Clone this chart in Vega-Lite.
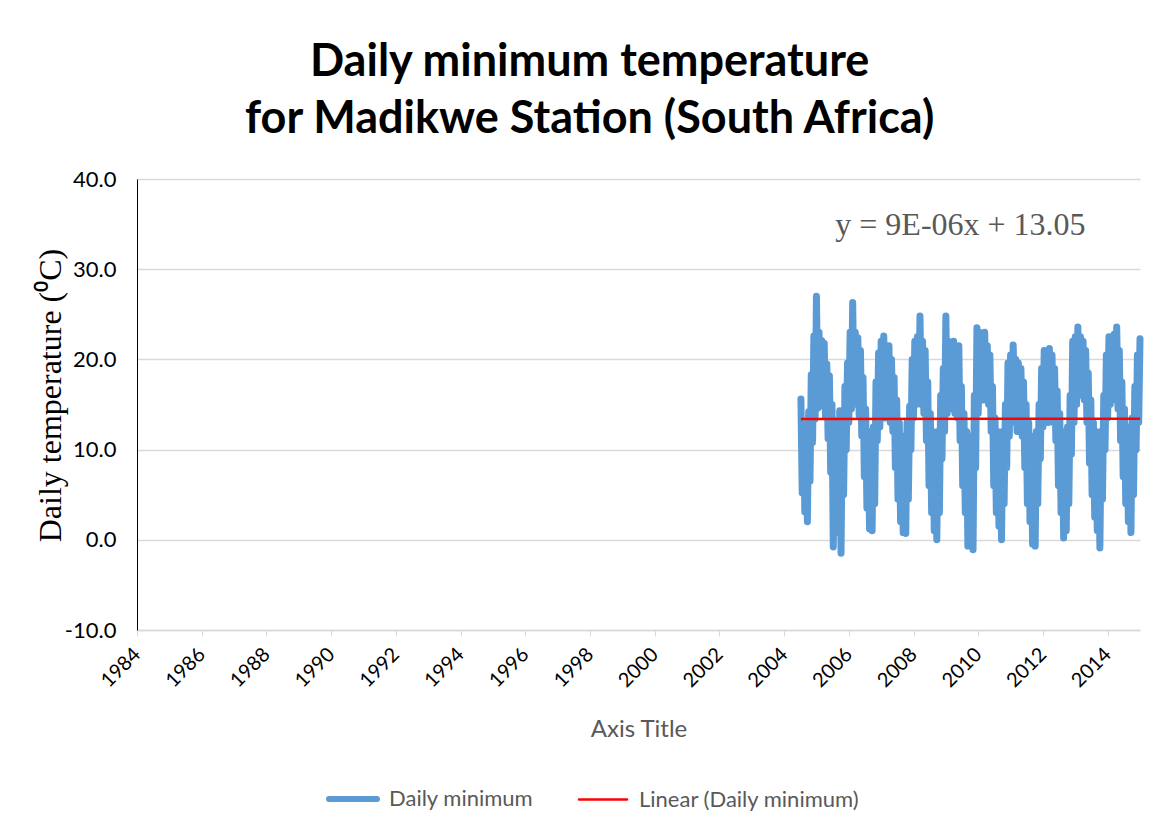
{
"$schema": "https://vega.github.io/schema/vega-lite/v6.json",
"autosize": {"type": "none"},
"width": 1003,
"height": 451,
"padding": {"left": 137, "top": 179, "right": 30, "bottom": 198},
"background": "white",
"title": {"text": ["Daily minimum temperature", "for Madikwe Station (South Africa)"], "font": "Lato", "fontSize": 45, "fontWeight": "bold", "color": "#000000", "anchor": "middle", "frame": "bounds", "lineHeight": 57, "offset": 26},
"datasets": {
"daily": [
{"t":2004.52,"v":15.6},{"t":2004.56,"v":5.2},{"t":2004.60,"v":12.8},{"t":2004.64,"v":3.1},{"t":2004.68,"v":11.5},{"t":2004.72,"v":2.0},{"t":2004.76,"v":14.2},{"t":2004.80,"v":6.5},{"t":2004.84,"v":18.3},{"t":2004.88,"v":10.8},{"t":2004.92,"v":22.6},{"t":2004.96,"v":13.4},
{"t":2005.00,"v":27.0},{"t":2005.04,"v":14.6},{"t":2005.08,"v":23.0},{"t":2005.12,"v":15.2},{"t":2005.16,"v":22.1},{"t":2005.20,"v":14.8},{"t":2005.24,"v":21.8},{"t":2005.28,"v":13.6},{"t":2005.32,"v":19.5},{"t":2005.36,"v":11.2},{"t":2005.40,"v":18.2},{"t":2005.44,"v":7.5},{"t":2005.48,"v":15.0},{"t":2005.52,"v":-0.8},{"t":2005.56,"v":13.2},{"t":2005.60,"v":2.5},{"t":2005.64,"v":12.0},{"t":2005.68,"v":0.8},{"t":2005.72,"v":14.3},{"t":2005.76,"v":-1.5},{"t":2005.80,"v":14.0},{"t":2005.84,"v":5.0},{"t":2005.88,"v":17.0},{"t":2005.92,"v":10.0},{"t":2005.96,"v":19.6},
{"t":2006.00,"v":13.0},{"t":2006.04,"v":23.0},{"t":2006.08,"v":14.5},{"t":2006.12,"v":26.3},{"t":2006.16,"v":15.2},{"t":2006.20,"v":23.0},{"t":2006.24,"v":15.0},{"t":2006.28,"v":22.4},{"t":2006.32,"v":13.8},{"t":2006.36,"v":21.0},{"t":2006.40,"v":11.5},{"t":2006.44,"v":18.0},{"t":2006.48,"v":7.0},{"t":2006.52,"v":14.5},{"t":2006.56,"v":3.5},{"t":2006.60,"v":12.0},{"t":2006.64,"v":1.2},{"t":2006.68,"v":11.0},{"t":2006.72,"v":1.0},{"t":2006.76,"v":12.5},{"t":2006.80,"v":4.0},{"t":2006.84,"v":17.5},{"t":2006.88,"v":11.0},{"t":2006.92,"v":20.7},{"t":2006.96,"v":12.5},
{"t":2007.00,"v":22.0},{"t":2007.04,"v":14.0},{"t":2007.08,"v":22.6},{"t":2007.12,"v":13.5},{"t":2007.16,"v":21.4},{"t":2007.20,"v":14.5},{"t":2007.24,"v":21.5},{"t":2007.28,"v":13.0},{"t":2007.32,"v":20.0},{"t":2007.36,"v":12.0},{"t":2007.40,"v":18.0},{"t":2007.44,"v":8.0},{"t":2007.48,"v":15.5},{"t":2007.52,"v":4.5},{"t":2007.56,"v":13.0},{"t":2007.60,"v":2.0},{"t":2007.64,"v":11.5},{"t":2007.68,"v":0.8},{"t":2007.72,"v":11.0},{"t":2007.76,"v":0.7},{"t":2007.80,"v":13.0},{"t":2007.84,"v":4.5},{"t":2007.88,"v":14.8},{"t":2007.92,"v":10.0},{"t":2007.96,"v":20.0},
{"t":2008.00,"v":13.5},{"t":2008.04,"v":22.0},{"t":2008.08,"v":15.0},{"t":2008.12,"v":22.5},{"t":2008.16,"v":15.5},{"t":2008.20,"v":24.8},{"t":2008.24,"v":15.0},{"t":2008.28,"v":22.0},{"t":2008.32,"v":14.0},{"t":2008.36,"v":21.0},{"t":2008.40,"v":11.0},{"t":2008.44,"v":17.5},{"t":2008.48,"v":6.0},{"t":2008.52,"v":14.0},{"t":2008.56,"v":3.0},{"t":2008.60,"v":12.0},{"t":2008.64,"v":1.0},{"t":2008.68,"v":11.0},{"t":2008.72,"v":0.0},{"t":2008.76,"v":12.0},{"t":2008.80,"v":3.0},{"t":2008.84,"v":16.0},{"t":2008.88,"v":9.0},{"t":2008.92,"v":19.0},{"t":2008.96,"v":12.0},
{"t":2009.00,"v":24.8},{"t":2009.04,"v":14.0},{"t":2009.08,"v":22.0},{"t":2009.12,"v":14.5},{"t":2009.16,"v":21.8},{"t":2009.20,"v":15.0},{"t":2009.24,"v":22.0},{"t":2009.28,"v":14.0},{"t":2009.32,"v":21.5},{"t":2009.36,"v":13.5},{"t":2009.40,"v":21.5},{"t":2009.44,"v":11.0},{"t":2009.48,"v":17.0},{"t":2009.52,"v":6.0},{"t":2009.56,"v":14.0},{"t":2009.60,"v":3.0},{"t":2009.64,"v":12.0},{"t":2009.68,"v":-0.7},{"t":2009.72,"v":11.0},{"t":2009.76,"v":1.0},{"t":2009.80,"v":11.5},{"t":2009.84,"v":-1.1},{"t":2009.88,"v":16.0},{"t":2009.92,"v":8.0},{"t":2009.96,"v":23.5},
{"t":2010.00,"v":14.0},{"t":2010.04,"v":23.0},{"t":2010.08,"v":16.0},{"t":2010.12,"v":22.8},{"t":2010.16,"v":15.5},{"t":2010.20,"v":23.0},{"t":2010.24,"v":16.0},{"t":2010.28,"v":21.5},{"t":2010.32,"v":15.0},{"t":2010.36,"v":20.5},{"t":2010.40,"v":12.0},{"t":2010.44,"v":17.0},{"t":2010.48,"v":6.0},{"t":2010.52,"v":13.5},{"t":2010.56,"v":3.0},{"t":2010.60,"v":12.0},{"t":2010.64,"v":1.5},{"t":2010.68,"v":10.5},{"t":2010.72,"v":0.0},{"t":2010.76,"v":12.0},{"t":2010.80,"v":4.0},{"t":2010.84,"v":15.0},{"t":2010.88,"v":8.0},{"t":2010.92,"v":19.6},{"t":2010.96,"v":11.5},
{"t":2011.00,"v":20.5},{"t":2011.04,"v":13.0},{"t":2011.08,"v":21.6},{"t":2011.12,"v":15.5},{"t":2011.16,"v":20.0},{"t":2011.20,"v":12.0},{"t":2011.24,"v":19.6},{"t":2011.28,"v":15.0},{"t":2011.32,"v":19.0},{"t":2011.36,"v":11.5},{"t":2011.40,"v":17.5},{"t":2011.44,"v":8.0},{"t":2011.48,"v":15.0},{"t":2011.52,"v":4.0},{"t":2011.56,"v":13.0},{"t":2011.60,"v":2.0},{"t":2011.64,"v":11.5},{"t":2011.68,"v":-0.5},{"t":2011.72,"v":11.0},{"t":2011.76,"v":-0.7},{"t":2011.80,"v":12.0},{"t":2011.84,"v":4.0},{"t":2011.88,"v":15.0},{"t":2011.92,"v":9.0},{"t":2011.96,"v":19.0},
{"t":2012.00,"v":12.5},{"t":2012.04,"v":21.0},{"t":2012.08,"v":13.5},{"t":2012.12,"v":20.5},{"t":2012.16,"v":13.0},{"t":2012.20,"v":21.2},{"t":2012.24,"v":14.0},{"t":2012.28,"v":20.5},{"t":2012.32,"v":13.0},{"t":2012.36,"v":19.0},{"t":2012.40,"v":11.0},{"t":2012.44,"v":16.5},{"t":2012.48,"v":6.0},{"t":2012.52,"v":14.0},{"t":2012.56,"v":3.0},{"t":2012.60,"v":12.0},{"t":2012.64,"v":0.2},{"t":2012.68,"v":11.0},{"t":2012.72,"v":1.0},{"t":2012.76,"v":12.5},{"t":2012.80,"v":4.0},{"t":2012.84,"v":16.0},{"t":2012.88,"v":9.5},{"t":2012.92,"v":22.0},{"t":2012.96,"v":13.0},
{"t":2013.00,"v":22.5},{"t":2013.04,"v":15.0},{"t":2013.08,"v":23.6},{"t":2013.12,"v":16.0},{"t":2013.16,"v":22.5},{"t":2013.20,"v":16.5},{"t":2013.24,"v":22.0},{"t":2013.28,"v":15.5},{"t":2013.32,"v":21.0},{"t":2013.36,"v":13.0},{"t":2013.40,"v":18.5},{"t":2013.44,"v":8.5},{"t":2013.48,"v":15.5},{"t":2013.52,"v":5.0},{"t":2013.56,"v":13.0},{"t":2013.60,"v":2.5},{"t":2013.64,"v":12.0},{"t":2013.68,"v":1.0},{"t":2013.72,"v":10.5},{"t":2013.76,"v":-0.9},{"t":2013.80,"v":12.0},{"t":2013.84,"v":4.5},{"t":2013.88,"v":16.0},{"t":2013.92,"v":10.0},{"t":2013.96,"v":20.5},
{"t":2014.00,"v":13.5},{"t":2014.04,"v":22.5},{"t":2014.08,"v":15.0},{"t":2014.12,"v":22.0},{"t":2014.16,"v":16.0},{"t":2014.20,"v":22.8},{"t":2014.24,"v":15.5},{"t":2014.28,"v":23.6},{"t":2014.32,"v":14.5},{"t":2014.36,"v":21.0},{"t":2014.40,"v":11.0},{"t":2014.44,"v":17.5},{"t":2014.48,"v":7.0},{"t":2014.52,"v":14.5},{"t":2014.56,"v":4.0},{"t":2014.60,"v":12.5},{"t":2014.64,"v":2.0},{"t":2014.68,"v":11.0},{"t":2014.72,"v":0.8},{"t":2014.76,"v":13.5},{"t":2014.80,"v":5.0},{"t":2014.84,"v":17.0},{"t":2014.88,"v":10.0},{"t":2014.92,"v":20.5},{"t":2014.96,"v":13.0},
{"t":2015.00,"v":22.3}
],
"trend": [{"t":2004.52,"v":13.39},{"t":2015.00,"v":13.43}]
},
"layer": [
{
"data": {"name": "daily"},
"mark": {"type": "line", "strokeWidth": 7, "strokeCap": "round", "strokeJoin": "round"},
"encoding": {
"x": {"field": "t", "type": "quantitative", "scale": {"domain": [1984, 2015], "nice": false, "zero": false},
"axis": {"title": "Axis Title", "values": [1984,1985,1986,1987,1988,1989,1990,1991,1992,1993,1994,1995,1996,1997,1998,1999,2000,2001,2002,2003,2004,2005,2006,2007,2008,2009,2010,2011,2012,2013,2014,2015],
"labelExpr": "datum.value % 2 === 0 ? format(datum.value, 'd') : ''", "labelAngle": -45, "labelAlign": "right", "labelBaseline": "middle", "labelPadding": 15, "labelOverlap": false,
"grid": false, "tickColor": "#d9d9d9", "tickSize": 6, "domainColor": "#d9d9d9", "domainWidth": 1.5,
"labelFont": "Lato", "labelFontSize": 20, "labelColor": "#000000",
"titleFont": "Lato", "titleFontSize": 24, "titleFontWeight": "normal", "titleColor": "#595959", "titlePadding": 27}},
"y": {"field": "v", "type": "quantitative", "scale": {"domain": [-10, 40], "nice": false, "zero": false},
"axis": {"title": "Daily temperature (⁰C)", "values": [-10,0,10,20,30,40], "format": ".1f", "labelExpr": "replace(datum.label, '−', '-')", "grid": true, "gridColor": "#d9d9d9", "gridWidth": 1.5, "ticks": false, "domainColor": "#000000", "domainWidth": 1,
"labelFont": "Lato", "labelFontSize": 22, "labelColor": "#000000", "labelPadding": 21,
"titleFont": "Liberation Serif", "titleFontSize": 32, "titleFontWeight": "normal", "titleColor": "#000000", "titlePadding": -3, "titleY": 216}},
"color": {"datum": "Daily minimum", "type": "nominal", "scale": {"domain": ["Daily minimum", "Linear (Daily minimum)"], "range": ["#5B9BD5", "#FF0000"]},
"legend": {"title": null, "orient": "none", "legendX": 205, "legendY": 609, "direction": "horizontal", "symbolType": "stroke", "symbolSize": 2300, "symbolStrokeWidth": 6, "labelFont": "Lato", "labelFontSize": 22, "labelColor": "#595959", "labelLimit": 500, "columnPadding": 40, "labelOffset": 25,
"encode": {"symbols": {"update": {"strokeWidth": {"signal": "datum.value === 'Daily minimum' ? 6 : 2.5"}, "strokeCap": {"value": "round"}}}}}}
}
},
{
"data": {"name": "trend"},
"mark": {"type": "line", "strokeWidth": 2.5},
"encoding": {
"x": {"field": "t", "type": "quantitative"},
"y": {"field": "v", "type": "quantitative"},
"color": {"datum": "Linear (Daily minimum)", "type": "nominal"}
}
},
{
"data": {"values": [{}]},
"mark": {"type": "text", "font": "Liberation Serif", "fontSize": 32, "color": "#595959", "align": "center", "baseline": "middle"},
"encoding": {
"x": {"datum": 2009.45},
"y": {"datum": 34.9},
"text": {"value": "y = 9E-06x + 13.05"}
}
}
],
"config": {"view": {"stroke": null}}
}
